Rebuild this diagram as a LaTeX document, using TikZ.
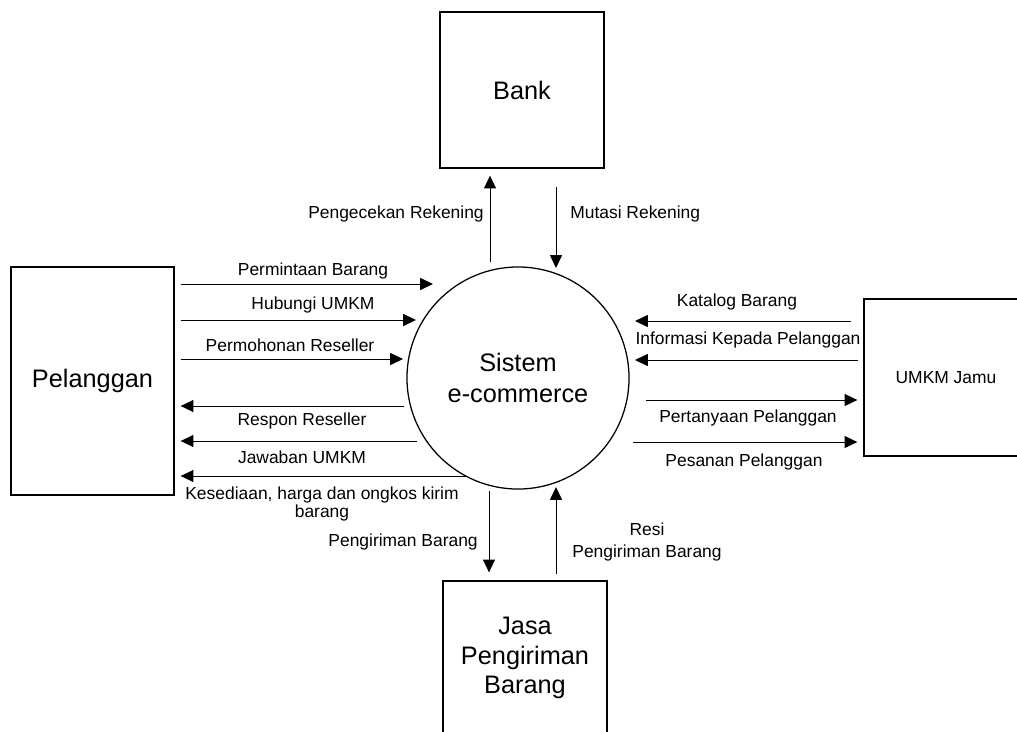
\documentclass[tikz,border=0pt]{standalone}
\usepackage{fontspec}
\setmainfont{Liberation Sans}
\usetikzlibrary{positioning,arrows.meta,shapes.geometric}
\tikzset{
  flow/.style={-{Triangle[length=0.32cm,width=0.3cm]},line width=0.7pt,draw=black},
  entity/.style={draw=black,line width=0.9pt,align=center,
    font=\fontsize{18pt}{21pt}\selectfont},
  smallentity/.style={draw=black,line width=0.9pt,align=center,
    font=\fontsize{12.4pt}{15pt}\selectfont},
  process/.style={draw=black,line width=0.9pt,circle,align=center,
    font=\fontsize{18pt}{21.5pt}\selectfont},
  lbl/.style={inner sep=0pt,align=center,font=\fontsize{12.4pt}{15pt}\selectfont}
}
\begin{document}
\begin{tikzpicture}[x=0.025cm,y=-0.025cm]
  \useasboundingbox (0,0) rectangle (1017,731);
  \clip (0,0) rectangle (1017,731);
  % external entities and the process
  \node[entity,minimum width=4.1cm,minimum height=3.9cm] (bank) at (522,90) {Bank};
  \node[entity,minimum width=4.075cm,minimum height=5.7cm] (pel) at (92.5,381) {Pelanggan};
  \node[smallentity,minimum width=4.1cm,minimum height=3.925cm] (umkm) at (946,377.5) {UMKM Jamu};
  \node[entity,minimum width=4.1cm,minimum height=3.85cm] (jasa) at (525,658) {Jasa\\Pengiriman\\Barang};
  \node[process,minimum size=5.55cm] (sys) at (518,378) {Sistem\\e-commerce};

  % ends of the flows near the process
  \coordinate (pA) at (433,284);
  \coordinate (pB) at (416,320);
  \coordinate (pC) at (403,359);
  \coordinate (pD) at (404,406);
  \coordinate (pE) at (417,441);
  \coordinate (pF) at (467,476);
  \coordinate (uA) at (635,321);
  \coordinate (uB) at (635,360);
  \coordinate (uC) at (646,400);
  \coordinate (uD) at (633,442);
  \coordinate (bA) at (490,262);
  \coordinate (bB) at (556,268);
  \coordinate (jA) at (489,491);
  \coordinate (jB) at (556,487);

  % Bank
  \draw[flow] (bA) -- ([yshift=-0.175cm]bank.south -| bA);
  \draw[flow] ([yshift=-0.45cm]bank.south -| bB) -- (bB);
  \node[lbl,anchor=east] (lbCek) at (484,214) {Pengecekan Rekening};
  \node[lbl,anchor=west] (lbMutasi) at (570,214) {Mutasi Rekening};

  % Pelanggan
  \draw[flow] ([xshift=0.15cm]pel.east |- pA) -- (pA);
  \draw[flow] ([xshift=0.15cm]pel.east |- pB) -- (pB);
  \draw[flow] ([xshift=0.15cm]pel.east |- pC) -- (pC);
  \draw[flow] (pD) -- ([xshift=0.15cm]pel.east |- pD);
  \draw[flow] (pE) -- ([xshift=0.15cm]pel.east |- pE);
  \draw[flow] (pF) -- ([xshift=0.15cm]pel.east |- pF);
  \node[lbl] (lbMinta) at (313,271) {Permintaan Barang};
  \node[lbl] (lbHubungi) at (313,305) {Hubungi UMKM};
  \node[lbl] (lbMohon) at (290,345) {Permohonan Reseller};
  \node[lbl] (lbRespon) at (302,421) {Respon Reseller};
  \node[lbl] (lbJawab) at (302,457) {Jawaban UMKM};
  \node[lbl] (lbSedia) at (322,504) {Kesediaan, harga dan ongkos kirim\\[-2pt]barang};

  % UMKM Jamu
  \draw[flow] ([xshift=-0.3cm]umkm.west |- uA) -- (uA);
  \draw[flow] ([xshift=-0.125cm]umkm.west |- uB) -- (uB);
  \draw[flow] (uC) -- ([xshift=-0.15cm]umkm.west |- uC);
  \draw[flow] (uD) -- ([xshift=-0.15cm]umkm.west |- uD);
  \node[lbl] (lbKatalog) at (737,302) {Katalog Barang};
  \node[lbl] (lbInfo) at (748,340) {Informasi Kepada Pelanggan};
  \node[lbl] (lbTanya) at (748,418) {Pertanyaan Pelanggan};
  \node[lbl] (lbPesan) at (744,462) {Pesanan Pelanggan};

  % Jasa Pengiriman
  \draw[flow] (jA) -- ([yshift=0.2cm]jasa.north -| jA);
  \draw[flow] ([yshift=0.15cm]jasa.north -| jB) -- (jB);
  \node[lbl,anchor=east] (lbKirim) at (478,542) {Pengiriman Barang};
  \node[lbl] (lbResi) at (647,542) {Resi\\[1pt]Pengiriman Barang};
\end{tikzpicture}
\end{document}
